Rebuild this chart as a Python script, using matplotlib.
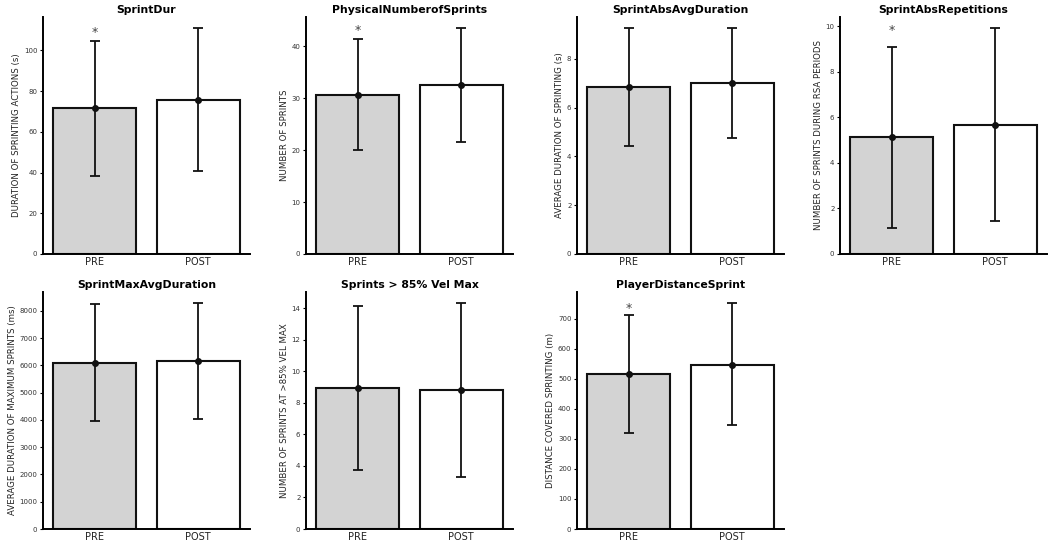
import numpy as np
import matplotlib
matplotlib.use("Agg")
import matplotlib.pyplot as plt

# Datos (media y limites de la barra de error)
groups = ["PRE", "POST"]

titles = ["SprintDur", "PhysicalNumberofSprints", "SprintAbsAvgDuration",
          "SprintAbsRepetitions", "SprintMaxAvgDuration", "Sprints > 85% Vel Max",
          "PlayerDistanceSprint"]
ylabels = ["DURATION OF SPRINTING ACTIONS (s)", "NUMBER OF SPRINTS",
           "AVERAGE DURATION OF SPRINTING (s)", "NUMBER OF SPRINTS DURING RSA PERIODS",
           "AVERAGE DURATION OF MAXIMUM SPRINTS (ms)", "NUMBER OF SPRINTS AT >85% VEL MAX",
           "DISTANCE COVERED SPRINTING (m)"]

means = [[71.5, 75.8], [30.7, 32.5], [6.83, 7.02], [5.13, 5.68],
         [6100, 6150], [8.95, 8.8], [515, 548]]
err_low = [[38.5, 40.5], [20.0, 21.5], [4.42, 4.77], [1.15, 1.45],
           [3950, 4020], [3.73, 3.28], [320, 345]]
err_high = [[104.5, 110.8], [41.4, 43.5], [9.25, 9.25], [9.1, 9.92],
            [8250, 8280], [14.17, 14.32], [712, 752]]
# asterisco de significancia sobre PRE
significant = [True, True, False, True, False, False, True]

W, H = 1056, 545
fig = plt.figure(figsize=(W / 100, H / 100), dpi=100)

lefts = [43, 306, 577, 840]
tops = [17, 292]
ax_w, ax_h = 207, 237
star_off = [1.5, 1.5, 1.5, 7, 1.5, 1.5, 0.5]

for i in range(len(titles)):
    r, c = divmod(i, 4)
    ax = fig.add_axes([lefts[c] / W, 1 - (tops[r] + ax_h) / H, ax_w / W, ax_h / H])
    x = np.arange(len(groups))
    m = np.array(means[i])
    lo = m - np.array(err_low[i])
    hi = np.array(err_high[i]) - m
    ax.bar(x, m, width=0.8, color=["#d3d3d3", "white"], edgecolor="#111111", linewidth=1.5)
    ax.errorbar(x, m, yerr=[lo, hi], fmt="o", color="#111111", markersize=4,
                capsize=3.5, elinewidth=1.3, capthick=1.3)
    if significant[i]:
        ax.annotate("*", (x[0], err_high[i][0]), xytext=(0, star_off[i]),
                    textcoords="offset points", ha="center", va="bottom",
                    fontsize=9, color="#444444")
    ax.set_xlim(-0.5, 1.5)
    ax.set_xticks(x)
    ax.set_xticklabels(groups, fontsize=7, color="#222222")
    ax.tick_params(axis="y", labelsize=5, length=2.5, width=0.8, pad=1.5,
                   labelcolor="#333333")
    ax.tick_params(axis="x", length=0, pad=2)
    ax.set_title(titles[i], fontsize=7.8, fontweight="bold", pad=3)
    ax.set_ylabel(ylabels[i], fontsize=6.2, labelpad=2, color="#222222")
    ax.spines["top"].set_visible(False)
    ax.spines["right"].set_visible(False)
    ax.spines["left"].set_linewidth(1.4)
    ax.spines["bottom"].set_linewidth(1.4)

fig.savefig("out.png", dpi=100)
